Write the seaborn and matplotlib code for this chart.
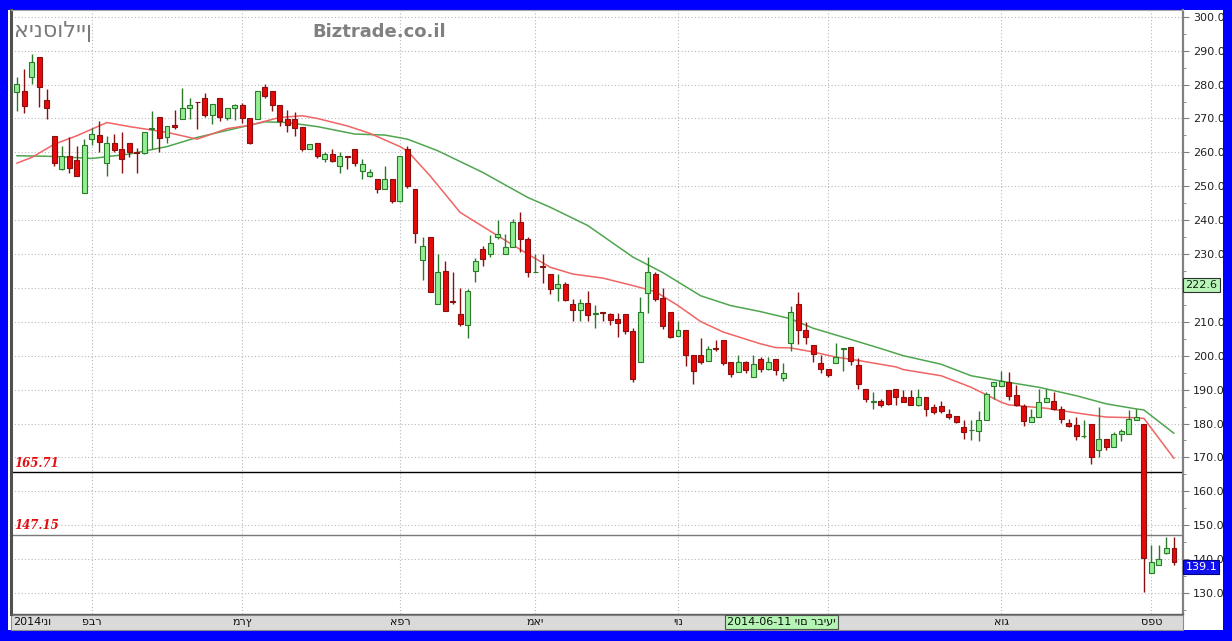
import numpy as np
import seaborn as sns
import matplotlib.pyplot as plt
import matplotlib.transforms as mtransforms
from matplotlib.patches import Rectangle

sns.set_style("white")
plt.rcParams["font.family"] = ["DejaVu Sans"]

# daily candles, mid-Jan 2014 .. early Sep 2014
opens = [277.7, 278.2, 282.1, 288.0, 275.5, 264.9, 255.0, 258.8, 257.8, 247.9,
         263.9, 265.2, 257.0, 262.7, 260.9, 262.9, 260.1, 259.8, 267.0, 270.5,
         264.4, 268.0, 269.8, 273.0, 274.9, 275.9, 271.0, 275.9, 270.0, 273.0,
         274.0, 270.1, 269.8, 279.2, 278.2, 274.1, 269.8, 269.8, 267.6, 261.1,
         262.7, 258.0, 259.5, 256.0, 258.9, 261.1, 254.5, 252.9, 252.1, 249.3,
         252.1, 245.7, 260.9, 249.2, 228.1, 234.9, 215.3, 225.1, 216.1, 212.4,
         209.1, 225.1, 231.5, 230.0, 234.9, 230.0, 232.0, 239.6, 234.5, 224.6,
         226.5, 224.1, 219.9, 221.2, 215.3, 213.6, 215.6, 212.3, 212.8, 212.4,
         210.7, 212.4, 207.4, 198.1, 218.5, 224.1, 217.0, 212.8, 205.7, 207.5,
         200.1, 200.1, 198.4, 202.2, 204.5, 198.1, 195.2, 198.1, 193.7, 199.1,
         196.0, 199.1, 193.4, 203.8, 215.3, 207.6, 203.2, 197.9, 196.0, 197.9,
         202.0, 202.5, 197.2, 190.3, 186.2, 186.6, 189.8, 190.1, 187.8, 187.7,
         185.5, 187.7, 184.8, 185.1, 182.8, 182.2, 178.9, 178.0, 177.9, 180.9,
         191.0, 191.0, 192.2, 188.4, 185.3, 180.4, 181.9, 186.3, 186.5, 184.3,
         180.2, 179.6, 176.2, 179.9, 172.1, 175.5, 173.0, 176.9, 177.0, 181.1,
         180.0, 135.8, 138.4, 141.7, 143.3]
highs = [282.1, 284.6, 289.0, 288.0, 278.7, 264.9, 261.9, 264.4, 261.9, 263.9,
         267.3, 269.3, 264.9, 265.4, 266.1, 262.9, 261.4, 266.1, 272.3, 270.5,
         267.8, 272.6, 278.9, 275.9, 274.9, 277.4, 274.2, 275.9, 273.0, 274.2,
         274.7, 270.1, 278.2, 280.1, 278.2, 274.1, 272.6, 271.8, 267.6, 262.6,
         262.7, 260.0, 261.0, 260.0, 259.0, 261.1, 258.0, 255.0, 252.1, 256.0,
         252.1, 259.0, 261.9, 249.2, 234.9, 234.9, 230.0, 227.8, 224.8, 219.9,
         219.7, 228.8, 232.3, 235.7, 239.9, 235.9, 240.4, 242.3, 235.0, 230.0,
         230.0, 224.1, 224.1, 221.7, 216.8, 216.8, 219.2, 215.0, 213.0, 212.6,
         212.6, 212.4, 208.1, 217.3, 229.1, 224.8, 219.9, 212.8, 210.1, 207.5,
         200.1, 205.2, 202.8, 204.5, 204.5, 198.1, 200.1, 198.3, 200.1, 199.6,
         199.6, 199.1, 197.9, 214.8, 218.7, 209.9, 203.2, 200.3, 196.0, 203.8,
         202.3, 202.5, 199.3, 190.3, 189.3, 187.2, 189.8, 190.1, 189.8, 190.0,
         190.2, 187.7, 185.8, 186.5, 184.3, 182.2, 180.9, 180.9, 183.8, 189.4,
         192.2, 195.6, 195.1, 191.4, 185.8, 184.3, 190.2, 190.2, 189.2, 185.3,
         181.4, 181.9, 180.9, 179.9, 184.8, 175.5, 177.5, 178.4, 184.1, 184.3,
         180.0, 144.1, 144.1, 146.6, 146.6]
lows = [272.3, 271.6, 280.1, 273.3, 269.8, 256.0, 254.8, 254.0, 252.9, 247.9,
        262.1, 260.0, 253.1, 260.0, 253.8, 258.5, 253.8, 259.5, 260.9, 260.0,
        262.7, 266.8, 269.8, 269.8, 267.0, 270.3, 268.3, 269.3, 269.6, 269.6,
        268.8, 262.5, 269.8, 276.0, 272.3, 267.7, 265.9, 264.7, 260.4, 260.9,
        258.2, 257.2, 257.2, 254.0, 255.0, 256.0, 252.1, 252.6, 248.0, 249.3,
        245.2, 245.4, 249.6, 233.3, 222.2, 218.7, 215.3, 213.3, 215.3, 208.7,
        205.2, 221.7, 226.6, 229.1, 234.4, 230.0, 232.0, 230.5, 223.2, 224.6,
        221.5, 218.2, 216.1, 216.0, 210.1, 210.1, 210.3, 208.1, 210.1, 209.2,
        205.5, 206.5, 192.2, 198.1, 212.7, 216.0, 208.0, 205.2, 205.7, 197.0,
        191.6, 197.6, 198.4, 201.3, 197.2, 193.7, 195.2, 195.0, 193.7, 195.2,
        195.7, 194.2, 192.5, 201.3, 203.5, 203.5, 198.1, 195.0, 193.7, 197.9,
        195.4, 197.2, 190.3, 186.2, 184.2, 184.9, 185.6, 185.4, 186.2, 185.4,
        185.3, 182.2, 182.8, 183.1, 181.4, 180.2, 175.5, 175.0, 174.7, 180.9,
        187.1, 191.0, 186.8, 185.3, 179.4, 180.4, 181.9, 186.3, 184.1, 180.2,
        178.9, 175.0, 175.7, 168.1, 170.1, 172.1, 173.0, 174.7, 177.0, 181.1,
        130.4, 135.8, 138.4, 141.4, 138.2]
closes = [280.1, 273.7, 286.7, 279.2, 273.0, 257.0, 259.0, 255.5, 252.9, 262.1,
          265.4, 263.2, 262.7, 260.7, 258.0, 260.0, 259.9, 266.1, 267.3, 264.1,
          267.8, 267.5, 273.0, 273.9, 274.8, 271.0, 274.2, 270.3, 273.0, 273.9,
          270.0, 262.9, 278.2, 276.7, 273.9, 269.3, 268.0, 267.3, 260.9, 262.6,
          259.0, 259.5, 257.5, 258.8, 258.7, 256.8, 256.5, 254.2, 249.3, 252.1,
          245.7, 259.0, 250.1, 236.1, 232.3, 218.7, 224.6, 213.3, 215.9, 209.4,
          219.2, 227.8, 228.6, 233.3, 235.9, 232.0, 239.6, 234.5, 224.8, 224.8,
          226.3, 219.7, 221.2, 216.3, 213.6, 215.6, 211.9, 212.5, 212.6, 210.4,
          209.7, 207.2, 193.0, 213.0, 224.8, 216.8, 208.7, 205.5, 207.5, 200.2,
          195.4, 198.1, 202.1, 201.9, 197.9, 194.7, 198.1, 195.7, 197.6, 196.2,
          198.1, 195.7, 195.0, 213.0, 207.5, 205.5, 200.6, 196.0, 194.4, 199.6,
          202.3, 198.3, 191.8, 187.2, 186.5, 185.6, 185.9, 187.8, 186.4, 185.5,
          187.7, 184.3, 183.3, 183.8, 181.9, 180.4, 177.6, 178.2, 180.9, 188.7,
          192.2, 192.4, 188.2, 185.5, 180.6, 181.9, 186.3, 187.5, 184.3, 181.2,
          179.2, 176.3, 176.4, 170.1, 175.5, 173.0, 177.0, 177.9, 181.2, 181.9,
          140.2, 139.0, 140.0, 143.3, 139.1]

# moving averages, read at a few candles (candle index, value)
ma_fast_idx = [0, 2, 5, 8, 12, 15, 20, 24, 28, 31, 35, 38, 40, 44, 47, 51, 52, 55,
               59, 64, 68, 71, 74, 78, 82, 85, 88, 91, 94, 99, 101, 103, 106, 109,
               112, 117, 118, 123, 127, 131, 132, 137, 142, 145, 149, 150, 154]
ma_fast_val = [256.8, 258.5, 262.4, 264.9, 268.8, 267.6, 265.9, 263.9, 267.0, 268.0,
               270.3, 270.8, 270.0, 267.8, 265.6, 261.7, 260.4, 253.1, 242.3, 235.4,
               230.0, 226.1, 224.1, 222.9, 220.7, 218.9, 214.8, 210.1, 207.0, 203.5,
               202.4, 202.3, 201.1, 199.6, 198.6, 196.7, 195.9, 194.1, 190.7, 186.3,
               185.5, 184.5, 182.8, 181.9, 181.7, 181.5, 169.7]
ma_slow_idx = [0, 5, 10, 15, 20, 24, 29, 33, 36, 40, 45, 49, 52, 56, 62, 68, 71, 76,
               82, 86, 91, 95, 99, 103, 106, 111, 115, 118, 123, 127, 131, 136, 141,
               145, 149, 150, 154]
ma_slow_val = [259.0, 258.8, 258.2, 259.5, 261.7, 264.4, 267.0, 269.0, 268.8, 267.6,
               265.4, 265.1, 263.9, 260.5, 254.1, 246.7, 243.8, 238.4, 229.1, 224.5,
               217.7, 214.8, 213.0, 210.9, 208.1, 204.8, 202.1, 200.0, 197.5, 194.1,
               192.5, 190.7, 188.2, 185.8, 184.3, 184.0, 177.1]

levels = [165.71, 147.15]
level_colors = ["black", "#7a7a7a"]

month_idx = [10, 30, 51, 69, 88, 108, 131, 151]
month_names = ["פבר", "מרץ", "אפר", "מאי", "יונ", "יול", "אוג", "ספט"]
yticks = list(range(130, 301, 10))

W, H = 1232, 641
fig = plt.figure(figsize=(W / 100, H / 100), dpi=100, facecolor="#0000ff")
fig.add_artist(Rectangle((8 / W, 11 / H), 1215 / W, 620 / H, transform=fig.transFigure,
                         facecolor="white", edgecolor="none", zorder=-5))
ax = fig.add_axes([11 / W, 27 / H, 1172 / W, 604 / H])
ax.set_facecolor("white")

# moving averages
sns.lineplot(x=ma_slow_idx, y=ma_slow_val, ax=ax, color="#4fa64f", lw=1.1, zorder=2)
sns.lineplot(x=ma_fast_idx, y=ma_fast_val, ax=ax, color="#f06464", lw=1.1, zorder=2)

# candles
o = np.array(opens)
c = np.array(closes)
hi = np.array(highs)
lo = np.array(lows)
x = np.arange(len(c))
up = c >= o
body_lo = np.minimum(o, c)
body_h = np.abs(c - o)

ax.vlines(x[up], lo[up], hi[up], color="#2a7a2a", lw=1, zorder=3)
ax.vlines(x[~up], lo[~up], hi[~up], color="#8a1010", lw=1, zorder=3)
ax.bar(x[up], body_h[up], bottom=body_lo[up], width=0.66, color="#93ee93",
       edgecolor="#2a7a2a", lw=0.8, zorder=4)
ax.bar(x[~up], body_h[~up], bottom=body_lo[~up], width=0.66, color="#e40a0a",
       edgecolor="#8a1010", lw=0.8, zorder=4)

# support levels
yt = mtransforms.blended_transform_factory(ax.transAxes, ax.transData)
for lev, col in zip(levels, level_colors):
    ax.axhline(lev, color=col, lw=1, zorder=2.5)
    ax.text(0.0025, lev + 0.7, f"{lev:.2f}", transform=yt, color="#e01010",
            fontsize=8.5, fontstyle="italic", fontweight="bold", va="bottom",
            ha="left", family="DejaVu Serif")

ax.set_xlim(-0.76, 155.2)
ax.set_ylim(123.8, 302)

# grid and price scale
ax.set_xticks(month_idx)
ax.set_xticklabels([])
ax.set_yticks(yticks)
ax.set_yticks(list(range(125, 301, 5)), minor=True)
ax.grid(True, which="major", color="#b8b8b8", linestyle=(0, (1, 2)), lw=0.8)
ax.yaxis.tick_right()
# 220.0 sits under the value tag, as in the source chart
ax.set_yticklabels(["" if v == 220 else f"{v:.1f}" for v in yticks])
ax.tick_params(axis="y", which="major", length=4, color="#808080", labelsize=8,
               labelcolor="#202020", pad=3)
ax.tick_params(axis="y", which="minor", length=2, color="#808080", right=True, left=False)
ax.tick_params(axis="x", length=0)

for side, col, lw in [("left", "#505050", 2.2), ("right", "#808080", 1.6),
                      ("top", "#a8a8a8", 0.8), ("bottom", "#606060", 1.0)]:
    ax.spines[side].set_visible(True)
    ax.spines[side].set_color(col)
    ax.spines[side].set_linewidth(lw)

# date bar under the plot
ax.add_patch(Rectangle((0, -16 / 604), 1, 15.5 / 604, transform=ax.transAxes,
                       facecolor="#dadada", edgecolor="#8c8c8c", lw=0.8,
                       clip_on=False, zorder=1))
bt = mtransforms.blended_transform_factory(ax.transData, ax.transAxes)
lab_y = -0.0135
ax.text(-0.45, lab_y, "2014ינו", transform=bt, fontsize=8, ha="left",
        va="center", clip_on=False, color="#101010", zorder=5)
for mi, name in zip(month_idx, month_names):
    if name == "יול":
        continue
    ax.text(mi, lab_y, name, transform=bt, fontsize=8, ha="center",
            va="center", clip_on=False, color="#101010", zorder=5)
ax.text(94.5, lab_y, "2014-06-11 יום רביעי", transform=bt, fontsize=8,
        ha="left", va="center", clip_on=False, color="#101010", zorder=6,
        bbox=dict(boxstyle="square,pad=0.2", facecolor="#b4f4b4",
                  edgecolor="#505050", lw=0.8))

# last value tags on the price scale
ax.text(1.002, 220.8, "222.6", transform=yt, fontsize=8, ha="left", va="center",
        clip_on=False, color="#102010", zorder=6,
        bbox=dict(boxstyle="square,pad=0.2", facecolor="#b8f5b8", edgecolor="#303030", lw=0.8))
ax.text(1.002, 137.7, "139.1", transform=yt, fontsize=8, ha="left", va="center",
        clip_on=False, color="white", zorder=6,
        bbox=dict(boxstyle="square,pad=0.2", facecolor="#1010ee", edgecolor="#000080", lw=0.8))

# titles
fig.text(14 / W, 1 - 32 / H, "אינסוליין", fontsize=16, color="#7a7a7a",
         ha="left", va="center")
fig.text(312 / W, 1 - 32 / H, "Biztrade.co.il", fontsize=13, color="#808080",
         fontweight="bold", ha="left", va="center")

fig.savefig("out.png", dpi=100, facecolor=fig.get_facecolor())
